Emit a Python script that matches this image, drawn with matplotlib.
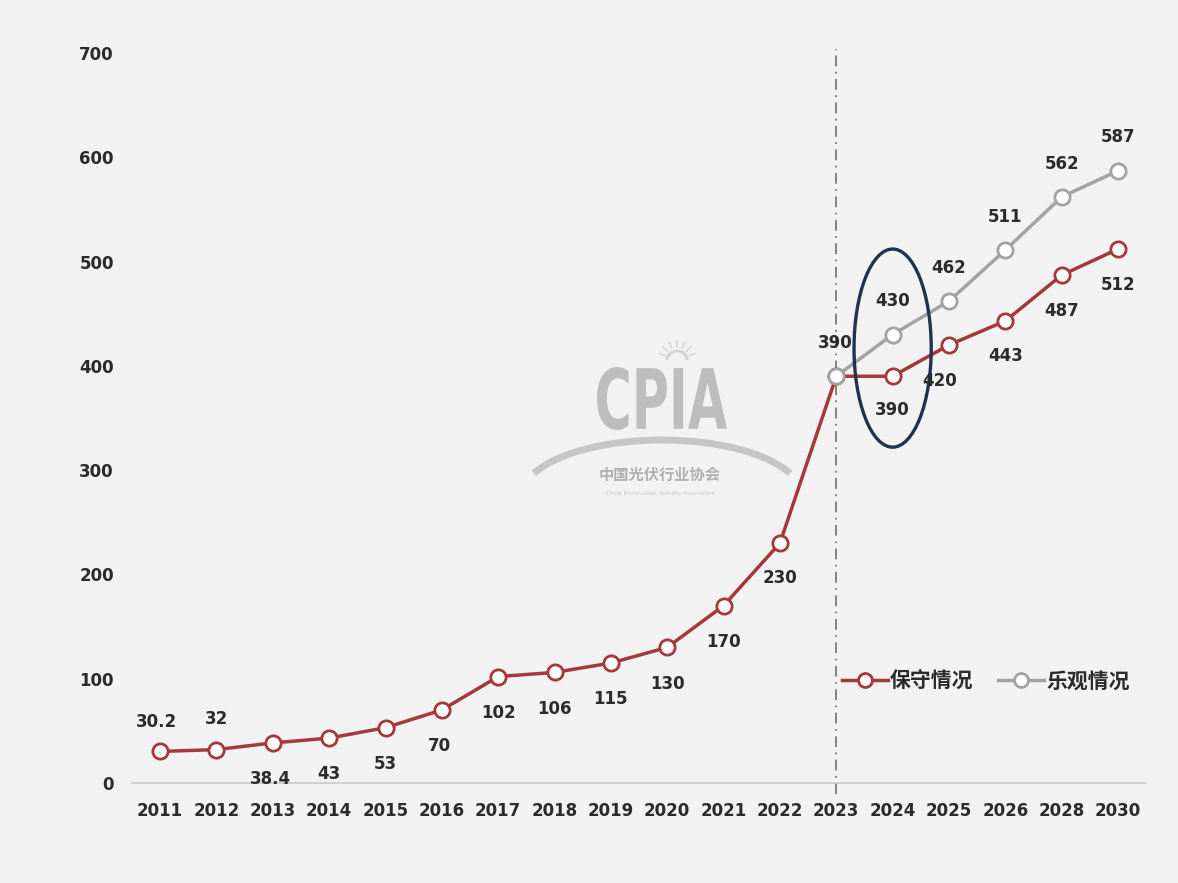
import matplotlib
matplotlib.use("Agg")
import numpy as np
import matplotlib.pyplot as plt
from matplotlib.patches import Ellipse, Arc, PathPatch
from matplotlib.lines import Line2D
from matplotlib.textpath import TextPath
from matplotlib.font_manager import FontProperties
from matplotlib.transforms import Affine2D

years = ["2011", "2012", "2013", "2014", "2015", "2016", "2017", "2018", "2019",
         "2020", "2021", "2022", "2023", "2024", "2025", "2026", "2028", "2030"]
conservative = [30.2, 32, 38.4, 43, 53, 70, 102, 106, 115, 130, 170, 230, 390, 390, 420, 443, 487, 512]
optimistic_years = ["2023", "2024", "2025", "2026", "2028", "2030"]
optimistic = [390, 430, 462, 511, 562, 587]
cons_labels = ["30.2", "32", "38.4", "43", "53", "70", "102", "106", "115", "130", "170", "230", "390", "390", "420", "443", "487", "512"]
opt_labels = ["", "430", "462", "511", "562", "587"]
legend_labels = ["保守情况", "乐观情况"]
yticks = [0, 100, 200, 300, 400, 500, 600, 700]

RED = "#a53838"
GRAY = "#a3a3a3"
BG = "#f2f2f2"
TXT = "#2b2b2b"

plt.rcParams['font.family'] = ['DejaVu Sans', 'Noto Sans CJK SC']

fig = plt.figure(figsize=(11.78, 8.83), dpi=100, facecolor=BG)

# watermark layer (pixel coordinates, behind the chart)
wm_ax = fig.add_axes([0, 0, 1, 1], facecolor=BG, zorder=0)
wm_ax.set_xlim(0, 1178)
wm_ax.set_ylim(883, 0)
wm_ax.axis("off")
tp = TextPath((0, 0), "CPIA", size=10, prop=FontProperties(family="DejaVu Sans", weight="bold"))
bb = tp.get_extents()
sx = 130 / bb.width
sy = 63 / bb.height
tr = Affine2D().translate(-bb.x0, -bb.y0).scale(sx, -sy).translate(597, 430)
wm_ax.add_patch(PathPatch(tr.transform_path(tp), facecolor="#bdbdbd", edgecolor="none"))
wm_ax.add_patch(Arc((662, 496), 280, 112, theta1=190, theta2=350, color="#c6c6c6", lw=5))
wm_ax.add_patch(Arc((677, 360), 20, 18, theta1=180, theta2=360, color="#d2d2d2", lw=2))
for ang in np.linspace(200, 340, 7):
    a = np.deg2rad(ang)
    wm_ax.plot([677 + 13 * np.cos(a), 677 + 19 * np.cos(a)],
               [360 + 13 * np.sin(a), 360 + 19 * np.sin(a)], color="#d6d6d6", lw=1.2)
wm_ax.text(660, 475, "中国光伏行业协会", ha="center", va="center", fontsize=11,
           color="#b0b0b0", family=["Noto Sans CJK SC"], fontweight="bold")
wm_ax.text(660, 494, "China Photovoltaic Industry Association", ha="center", va="center",
           fontsize=4, color="#c4c4c4")

ax = fig.add_axes([0.112, 0.1133, 0.861, 0.8267], facecolor="none", zorder=1)

x = list(range(len(years)))
xo = [years.index(y) for y in optimistic_years]

ax.axvline(years.index("2023"), ymin=-0.015, ymax=1.005, color="#7a7a7a", lw=1.3,
           linestyle=(0, (6, 3, 1, 3)), clip_on=False, zorder=1)

ax.plot(x, conservative, color=RED, lw=2.5, marker="o", ms=11, mfc="white",
        mec=RED, mew=2.0, zorder=3)
ax.plot(xo, optimistic, color=GRAY, lw=2.5, marker="o", ms=11, mfc="white",
        mec=GRAY, mew=2.0, zorder=4)

# label offsets (points)
cons_off = {0: (-3, 21), 1: (0, 22), 2: (-2, -26), 3: (0, -26), 4: (0, -26),
            5: (-2, -26), 6: (0, -26), 7: (0, -26), 8: (0, -26), 9: (0, -26),
            10: (0, -26), 11: (0, -25), 12: (-1, 24), 13: (0, -24), 14: (-7, -26),
            15: (0, -25), 16: (0, -26), 17: (0, -26)}
for i, (v, lab) in enumerate(zip(conservative, cons_labels)):
    dx, dy = cons_off[i]
    ax.annotate(lab, (i, v), xytext=(dx, dy), textcoords="offset points",
                ha="center", va="center", fontsize=12, fontweight="bold", color=TXT, zorder=6)
for xi, v, lab in zip(xo, optimistic, opt_labels):
    if lab:
        ax.annotate(lab, (xi, v), xytext=(0, 24), textcoords="offset points",
                    ha="center", va="center", fontsize=12, fontweight="bold", color=TXT, zorder=6)

# ellipse
ax.add_patch(Ellipse((years.index("2024"), 417), 1.37, 190, fill=False,
                     edgecolor="#1f3350", lw=2.4, zorder=5))

ax.set_xlim(-0.5, len(years) - 0.5)
ax.set_ylim(0, 700)
ax.set_xticks(x)
ax.set_xticklabels(years, fontsize=12, fontweight="bold", color=TXT)
ax.set_yticks(yticks)
ax.set_yticklabels([str(t) for t in yticks], fontsize=12, fontweight="bold", color=TXT)
ax.tick_params(axis="x", length=0, pad=14)
ax.tick_params(axis="y", length=0, pad=13)
for s in ["top", "right", "left"]:
    ax.spines[s].set_visible(False)
ax.spines["bottom"].set_color("#c8c8c8")
ax.spines["bottom"].set_linewidth(1.2)

# legend
handles = [Line2D([], [], color=RED, lw=2.5, marker="o", ms=10, mfc="white", mec=RED, mew=2),
           Line2D([], [], color=GRAY, lw=2.5, marker="o", ms=10, mfc="white", mec=GRAY, mew=2)]
leg = ax.legend(handles, legend_labels, loc="center", bbox_to_anchor=(0.842, 0.14), ncol=2,
                frameon=False, handlelength=2.2, handletextpad=0.1, columnspacing=1.2,
                prop={"family": ["Noto Sans CJK SC"], "size": 15, "weight": "bold"})
for t in leg.get_texts():
    t.set_color(TXT)

fig.savefig("out.png", dpi=100, facecolor=BG)
